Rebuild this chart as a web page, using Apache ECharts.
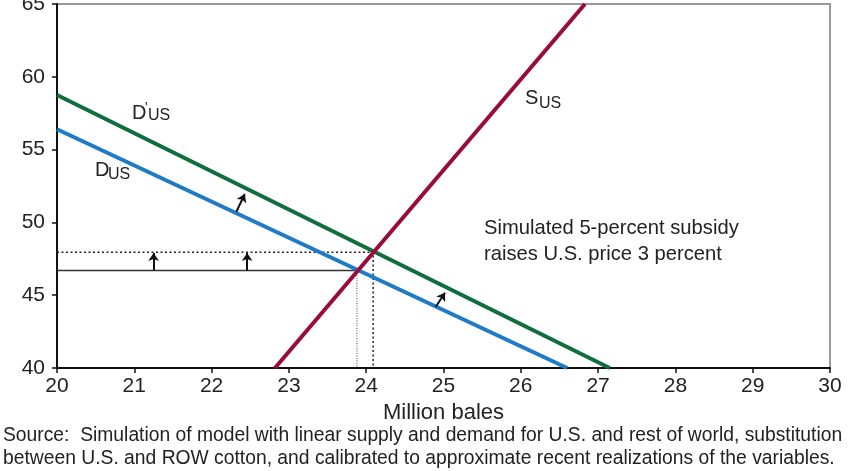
<!DOCTYPE html>
<html>
<head>
<meta charset="utf-8">
<script src="https://cdn.jsdelivr.net/npm/echarts@6/dist/echarts.min.js"></script>
<style>
html,body{margin:0;padding:0;background:#fff;}
#main{width:850px;height:471px;}
</style>
</head>
<body>
<div id="main"></div>
<script>
// curves: [quantity, price]
var demandUS = [[20, 56.4], [26.6, 40]];
var demandUSShift = [[20, 58.75], [27.15, 40]];
var supplyUS = [[22.82, 40], [26.83, 65]];
var eqOld = [23.88, 46.7];
var eqNew = [24.09, 47.95];
var upArrowsX = [21.25, 22.46];
var shiftArrows = [
    [[22.32, 50.73], [22.43, 51.95]],
    [[24.90, 44.21], [25.02, 45.17]]
];

var font = 'Liberation Sans, Arial, Helvetica, sans-serif';
var textColor = '#222';

var myChart = echarts.init(document.getElementById('main'));

var arrowData = [];
for (var i = 0; i < upArrowsX.length; i++) {
    arrowData.push({coords: [[upArrowsX[i], eqOld[1]], [upArrowsX[i], eqNew[1] - 0.05]]});
}
for (var j = 0; j < shiftArrows.length; j++) {
    arrowData.push({coords: shiftArrows[j]});
}

function txt(x, y, s, size) {
    return {
        type: 'text', left: x, top: y,
        style: {text: s, font: size + 'px ' + font, fill: textColor}
    };
}

var option = {
    animation: false,
    grid: {
        left: 57, right: 20, top: 4, bottom: 103,
        outerBoundsMode: 'none',
        show: true, borderColor: '#999', borderWidth: 2, backgroundColor: '#fff'
    },
    xAxis: {
        type: 'value', min: 20, max: 30, interval: 1,
        name: 'Million bales', nameLocation: 'middle', nameGap: 32,
        nameTextStyle: {fontFamily: font, fontSize: 22, color: textColor},
        axisLine: {lineStyle: {color: '#111', width: 2}},
        axisTick: {show: true, length: 5, lineStyle: {color: '#111', width: 1.5}},
        axisLabel: {fontFamily: font, fontSize: 21, color: textColor, margin: 8},
        splitLine: {show: false}
    },
    yAxis: {
        type: 'value', min: 40, max: 65, interval: 5,
        axisLine: {show: true, lineStyle: {color: '#111', width: 2}},
        axisTick: {show: true, length: 5, lineStyle: {color: '#111', width: 1.5}},
        axisLabel: {fontFamily: font, fontSize: 21, color: textColor, margin: 12},
        splitLine: {show: false}
    },
    series: [
        {
            type: 'line', data: [[20, eqOld[1]], eqOld], symbol: 'none',
            lineStyle: {color: '#333', width: 1.5}, z: 1
        },
        {
            type: 'line', data: [eqOld, [eqOld[0], 40]], symbol: 'none',
            lineStyle: {color: '#444', width: 1, type: [1, 1.5]}, z: 1
        },
        {
            type: 'line', data: [[20, eqNew[1]], eqNew, [eqNew[0], 40]], symbol: 'none',
            lineStyle: {color: '#222', width: 1.5, type: [2, 2.5]}, z: 1
        },
        {
            type: 'line', data: demandUSShift, symbol: 'none',
            lineStyle: {color: '#0f6e3c', width: 4}, z: 2
        },
        {
            type: 'line', data: demandUS, symbol: 'none',
            lineStyle: {color: '#1f7ac8', width: 4}, z: 2
        },
        {
            type: 'line', data: supplyUS, symbol: 'none',
            lineStyle: {color: '#990a3d', width: 4}, z: 3
        },
        {
            type: 'lines', coordinateSystem: 'cartesian2d', data: arrowData,
            symbol: ['none', 'arrow'], symbolSize: 8,
            lineStyle: {color: '#111', width: 2, opacity: 1}, z: 4
        }
    ],
    graphic: [
        txt(132, 103, 'D', 20), txt(145, 101, "'", 14), txt(148, 108, 'US', 16),
        txt(95, 160, 'D', 20), txt(108, 167, 'US', 16),
        txt(525, 88, 'S', 20), txt(539, 96, 'US', 16),
        txt(484, 218, 'Simulated 5-percent subsidy', 20.2),
        txt(484, 244, 'raises U.S. price 3 percent', 20.2),
        txt(3, 426, 'Source:  Simulation of model with linear supply and demand for U.S. and rest of world, substitution', 19.3),
        txt(3, 449, 'between U.S. and ROW cotton, and calibrated to approximate recent realizations of the variables.', 19.3)
    ]
};

myChart.setOption(option);
</script>
</body>
</html>
